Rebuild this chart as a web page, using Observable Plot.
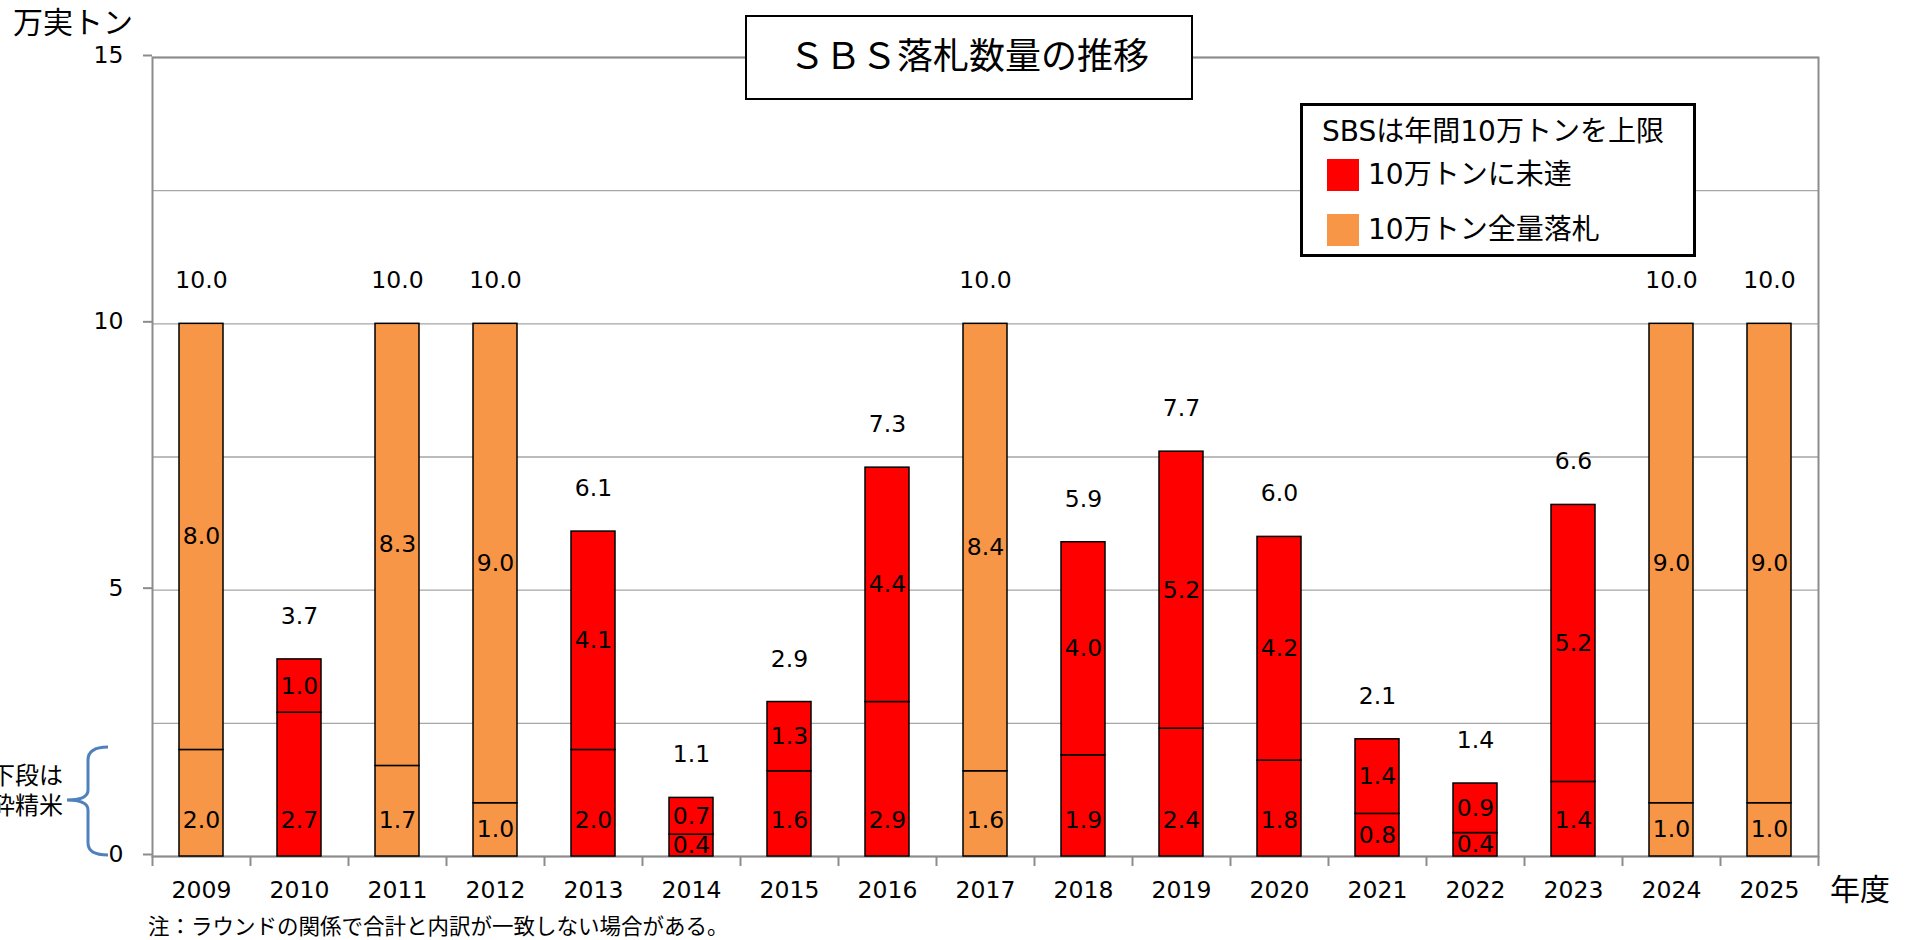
<!DOCTYPE html>
<html>
<head>
<meta charset="utf-8">
<script src="https://cdn.jsdelivr.net/npm/d3@7"></script>
<script src="https://cdn.jsdelivr.net/npm/@observablehq/plot@0.6"></script>
<style>
  html, body { margin: 0; padding: 0; background: #fff; }
  body { font-family: "DejaVu Sans", "Noto Sans CJK JP", sans-serif; color: #000; }
  #wrap { position: relative; width: 1910px; height: 940px; overflow: hidden; }
  #wrap > svg { position: absolute; left: 0; top: 0; }
  .abs { position: absolute; white-space: nowrap; }
  #title { left: 745px; top: 15px; width: 448px; height: 85px; box-sizing: border-box;
           border: 2px solid #000; background: #fff; font-size: 36px; line-height: 36px;
           display: flex; align-items: center; justify-content: center; padding-bottom: 9px;
           font-family: "Noto Sans CJK JP", sans-serif; }
  #legend { left: 1300px; top: 103px; width: 396px; height: 154px; box-sizing: border-box;
            border: 3px solid #000; background: #fff; }
  #legend .t { position: absolute; font-size: 28px; line-height: 28px; white-space: nowrap; }
  #legend .sw { position: absolute; width: 32px; height: 32px; }
</style>
</head>
<body>
<div id="wrap"></div>
<script>
// ---- data ----
const years = ["2009","2010","2011","2012","2013","2014","2015","2016","2017",
               "2018","2019","2020","2021","2022","2023","2024","2025"];
// lower segment (砕精米)
const lowerValues = [2.0, 2.7, 1.7, 1.0, 2.0, 0.41, 1.6, 2.9, 1.6, 1.9, 2.4, 1.8, 0.8, 0.44, 1.4, 1.0, 1.0];
// upper segment
const upperValues = [8.0, 1.0, 8.3, 9.0, 4.1, 0.69, 1.3, 4.4, 8.4, 4.0, 5.2, 4.2, 1.4, 0.93, 5.2, 9.0, 9.0];
// totals as printed above the bars
const totalValues = [10.0, 3.7, 10.0, 10.0, 6.1, 1.1, 2.9, 7.3, 10.0, 5.9, 7.7, 6.0, 2.1, 1.4, 6.6, 10.0, 10.0];
const statusNames = ["10万トンに未達", "10万トン全量落札"];
const statusColors = ["#FF0000", "#F79646"];
const yearStatus = [1,0,1,1,0,0,0,0,1,0,0,0,0,0,0,1,1]; // index into statusNames
const yTickValues = [0, 5, 10, 15];
const gridValues = [0, 2.5, 5, 7.5, 10, 12.5, 15];

// ---- text ----
const titleText = "ＳＢＳ落札数量の推移";
const legendTitle = "SBSは年間10万トンを上限";
const yUnit = "万実トン";
const xUnit = "年度";
const noteText = "注：ラウンドの関係で合計と内訳が一致しない場合がある。";
const sideNote = ["下段は", "砕精米"];

// ---- tables ----
const rows = years.flatMap((y, i) => [
  {year: y, part: "lower", value: lowerValues[i], status: statusNames[yearStatus[i]]},
  {year: y, part: "upper", value: upperValues[i], status: statusNames[yearStatus[i]]}
]);
const labels = years.map((y, i) => ({year: y, lower: lowerValues[i], upper: upperValues[i], total: totalValues[i]}));

const W = 1910, H = 940;
const mL = 152, mR = 92, mT = 57, mB = 84;
const step = (W - mL - mR) / years.length;
const fmt = d3.format(".1f");
const axisGray = "#8c8c8c";
const font = '"DejaVu Sans", "Noto Sans CJK JP", sans-serif';
const numSize = 23.5;

const chart = Plot.plot({
  width: W, height: H,
  marginLeft: mL, marginRight: mR, marginTop: mT, marginBottom: mB,
  style: {fontFamily: font, fontSize: numSize + "px", color: "#000", background: "transparent", overflow: "visible"},
  x: {domain: years, paddingInner: 0.55, paddingOuter: 0.275, label: null},
  y: {domain: [0, 15], label: null},
  color: {domain: statusNames, range: statusColors},
  marks: [
    Plot.gridY(gridValues, {stroke: "#a6a6a6", strokeOpacity: 1, strokeWidth: 1.3}),
    Plot.frame({stroke: axisGray, strokeWidth: 2}),
    Plot.axisY({ticks: yTickValues, tickSize: 9, tickPadding: 20, stroke: axisGray, strokeWidth: 2,
                fontSize: numSize, dy: -2, tickFormat: d3.format("d"), label: null}),
    Plot.axisX({ticks: years, tickSize: 10, dx: step / 2, stroke: axisGray, strokeWidth: 2,
                tickFormat: () => "", label: null}),
    Plot.axisX({ticks: [years[0]], tickSize: 10, dx: -step / 2, stroke: axisGray, strokeWidth: 2,
                tickFormat: () => "", label: null}),
    Plot.axisX({ticks: years, tickSize: 0, tickPadding: 25, fontSize: numSize, label: null}),
    Plot.barY(rows, Plot.stackY({x: "year", y: "value", fill: "status", stroke: "#000", strokeWidth: 1.5})),
    Plot.text(labels, {x: "year", y: d => Math.min(d.lower / 2, 0.68), text: d => fmt(d.lower), fontSize: numSize}),
    Plot.text(labels, {x: "year", y: d => d.lower + d.upper / 2, text: d => fmt(d.upper), fontSize: numSize}),
    Plot.text(labels, {x: "year", y: d => d.lower + d.upper, text: d => fmt(d.total), fontSize: numSize, dy: -43})
  ]
});

const wrap = document.getElementById("wrap");
wrap.appendChild(chart);

function addDiv(cls, id, text, css) {
  const d = document.createElement("div");
  d.className = cls;
  if (id) d.id = id;
  if (text != null) d.textContent = text;
  Object.assign(d.style, css || {});
  wrap.appendChild(d);
  return d;
}

// title box
addDiv("abs", "title", titleText);

// legend box
const lg = addDiv("abs", "legend", null);
function legItem(cls, text, css) {
  const d = document.createElement("div");
  d.className = cls;
  if (text != null) d.textContent = text;
  Object.assign(d.style, css);
  lg.appendChild(d);
}
legItem("t", legendTitle, {left: "19px", top: "12px"});
statusNames.forEach((name, i) => {
  legItem("sw", null, {left: "24px", top: (53 + 55 * i) + "px", background: statusColors[i]});
  legItem("t", name, {left: "65px", top: (55 + 55 * i) + "px"});
});

// axis unit labels and note
addDiv("abs", null, yUnit, {left: "13px", top: "8px", fontSize: "30px", lineHeight: "30px"});
addDiv("abs", null, xUnit, {left: "1830px", top: "875px", fontSize: "30px", lineHeight: "30px"});
addDiv("abs", null, noteText, {left: "148px", top: "916px", fontSize: "21.5px", lineHeight: "22px"});
addDiv("abs", null, null, {left: "-37px", top: "761px", width: "100px", textAlign: "right",
  fontSize: "24px", lineHeight: "30px", whiteSpace: "pre"}).textContent = sideNote.join("\n");

// brace
const ns = "http://www.w3.org/2000/svg";
const bs = document.createElementNS(ns, "svg");
bs.setAttribute("width", "120"); bs.setAttribute("height", "940");
bs.style.position = "absolute"; bs.style.left = "0"; bs.style.top = "0";
const p = document.createElementNS(ns, "path");
p.setAttribute("d", "M108,747 C96,747 88,750 88,760 L88,790 C88,797 81,800 67,800 C81,800 88,803 88,810 L88,843 C88,852 96,855 108,855");
p.setAttribute("fill", "none"); p.setAttribute("stroke", "#4F81BD"); p.setAttribute("stroke-width", "3");
bs.appendChild(p);
wrap.appendChild(bs);
</script>
</body>
</html>
